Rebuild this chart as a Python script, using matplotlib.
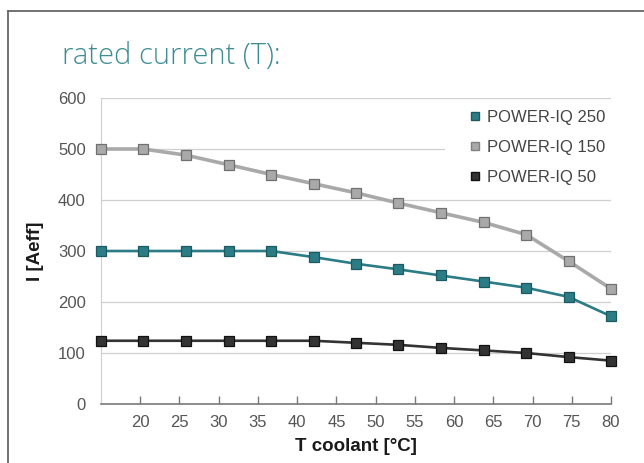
import matplotlib
matplotlib.use("Agg")
import matplotlib.pyplot as plt
from matplotlib.lines import Line2D
from matplotlib.patches import Rectangle

# coolant temperature points (13 equally placed category points from 15 to 80)
t_coolant = [15, 20.4, 25.8, 31.3, 36.7, 42.1, 47.5, 52.9, 58.3, 63.8, 69.2, 74.6, 80]

# rated current I [Aeff]
iq250 = [300, 300, 300, 300, 300, 288, 275, 264, 252, 240, 228, 210, 172]
iq150 = [500, 500, 488, 469, 450, 432, 414, 394, 375, 356, 332, 280, 226]
iq50 = [124, 124, 124, 124, 124, 124, 120, 116, 110, 105, 100, 92, 85]

series_names = ['POWER-IQ 250', 'POWER-IQ 150', 'POWER-IQ 50']
x_ticks = [20, 25, 30, 35, 40, 45, 50, 55, 60, 65, 70, 75, 80]
y_ticks = [0, 100, 200, 300, 400, 500, 600]

plt.rcParams['font.family'] = ['Liberation Sans', 'DejaVu Sans']

teal = '#2b7c85'
grey = '#a9a9a9'
dark = '#333333'

fig = plt.figure(figsize=(6.44, 4.63), dpi=100)
ax = fig.add_axes([101 / 644, 59 / 463, 510 / 644, 306 / 463])

# series: line colour, marker edge, line width
styles = [
    (iq250, teal, '#1c5a61', 1.9),
    (iq150, grey, '#707070', 2.6),
    (iq50, dark, '#111111', 1.9),
]
for values, col, edge, lw in styles:
    ax.plot(t_coolant, values, color=col, lw=lw, marker='s', ms=6.5,
            mfc=col, mec=edge, mew=0.9, clip_on=False, zorder=3)

ax.set_xlim(15, 80)
ax.set_ylim(0, 600)
ax.set_xticks(x_ticks)
ax.set_yticks(y_ticks)

ax.grid(axis='y', color='#cfcfcf', lw=0.9)
ax.set_axisbelow(True)
for side in ['top', 'right']:
    ax.spines[side].set_visible(False)
ax.spines['left'].set_color('#cfcfcf')
ax.spines['bottom'].set_color('#7a7a7a')
ax.spines['bottom'].set_linewidth(1.2)

ax.tick_params(axis='x', direction='in', length=6, color='#7a7a7a', width=1,
               labelsize=12, labelcolor='#555555', pad=8)
ax.tick_params(axis='y', length=0, labelsize=12, labelcolor='#555555', pad=11)

ax.set_xlabel('T coolant [°C]', fontsize=13.5, color='#1a1a1a', weight='bold', labelpad=6)
ax.set_ylabel('I [Aeff]', fontsize=13.5, color='#1a1a1a', weight='bold', labelpad=10)

# white block behind the legend hides the gridline there (not the top one)
ax.add_patch(Rectangle((0.6745, 0.70), 0.33, 0.287, transform=ax.transAxes,
                       facecolor='white', edgecolor='none', zorder=1, clip_on=False))

# legend with plain square keys
handles = [
    Line2D([], [], ls='', marker='s', ms=5.5, mfc=teal, mec='#1c5a61'),
    Line2D([], [], ls='', marker='s', ms=5.5, mfc=grey, mec='#808080'),
    Line2D([], [], ls='', marker='s', ms=5.5, mfc=dark, mec='#111111'),
]
leg = ax.legend(handles, series_names, loc='upper left', bbox_to_anchor=(0.7216, 0.962),
                frameon=False, fontsize=12, handlelength=0.7, handletextpad=0.4,
                labelspacing=0.9, borderpad=0, borderaxespad=0)
for txt in leg.get_texts():
    txt.set_color('#444444')

fig.text(62 / 644, 1 - 56 / 463, 'rated current (T):', fontsize=21, color='#3f8d93',
         va='center', ha='left', family=['Open Sans', 'Liberation Sans'], weight='light')

# outer frame lines (top and left only)
fig.add_artist(Line2D([7.5 / 644, 1], [1 - 10.5 / 463, 1 - 10.5 / 463],
                      transform=fig.transFigure, color='#666666', lw=1.3))
fig.add_artist(Line2D([7.5 / 644, 7.5 / 644], [0, 1 - 10.5 / 463],
                      transform=fig.transFigure, color='#666666', lw=1.3))

fig.savefig('out.png', dpi=100)
